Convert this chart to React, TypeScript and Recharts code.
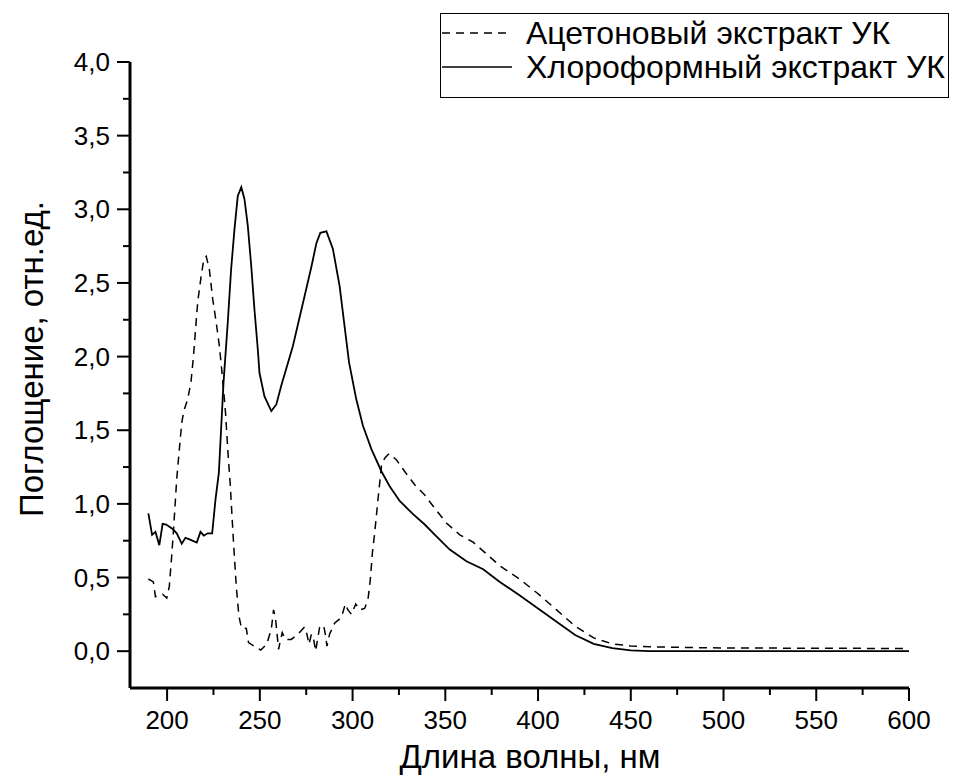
import React from 'react';
import { LineChart, Line, XAxis, YAxis, Legend } from 'recharts';

// Ацетоновый экстракт (пунктир)
const acetoneNm = [
  189.9, 192.6, 193.7, 197.6, 199.8, 201.2, 202.5, 203.6, 205.2, 206.6, 207.9, 209, 211.1,
  212.9, 214.2, 216.5, 218.4, 219.8, 221.1, 222.8, 224.6, 226.5, 228.2, 230, 231.5, 232.7,
  234, 235.1, 235.8, 237.3, 238.7, 240.1, 242.7, 243.9, 247.1, 250.5, 253.7, 256.2, 257.4,
  258.5, 259.2, 260.1, 261.2, 262.1, 263.7, 266.9, 270.5, 274.1, 275.4, 276.5, 277.8, 279,
  280.1, 281.3, 282.2, 284.4, 285.3, 286.2, 287.6, 290.3, 294, 296.1, 297.5, 299.4, 301.7,
  303.8, 306.5, 308.3, 309.6, 310.7, 311.9, 313.7, 315.6, 317.3, 319.6, 323.6, 328.1, 333.5,
  338.9, 344.3, 350.6, 357.8, 365, 372.2, 379.4, 390, 400, 410, 420, 430, 440, 450, 460,
  480, 500, 550, 600,
];
const acetoneAbs = [
  0.49, 0.47, 0.37, 0.386, 0.36, 0.44, 0.65, 0.85, 1.17, 1.37, 1.55, 1.63, 1.71,
  1.83, 2.0, 2.37, 2.55, 2.66, 2.68, 2.59, 2.39, 2.23, 2.07, 1.84, 1.62, 1.37,
  1.14, 0.895, 0.74, 0.44, 0.24, 0.157, 0.155, 0.058, 0.033, 0.008, 0.047, 0.15, 0.28,
  0.216, 0.126, 0.013, 0.08, 0.126, 0.08, 0.08, 0.115, 0.164, 0.115, 0.047, 0.115, 0.08,
  0.001, 0.092, 0.16, 0.176, 0.115, 0.035, 0.115, 0.19, 0.23, 0.32, 0.28, 0.25, 0.32,
  0.28, 0.29, 0.35, 0.49, 0.67, 0.8, 1.03, 1.26, 1.31, 1.34, 1.3, 1.22, 1.13,
  1.06, 0.97, 0.87, 0.79, 0.74, 0.66, 0.58, 0.49, 0.39, 0.28, 0.17, 0.09, 0.05, 0.035, 0.03,
  0.025, 0.022, 0.02, 0.018,
];

// Хлороформный экстракт (сплошная)
const chloroNm = [
  189.9, 191.9, 193.7, 195.8, 197.6, 199.5, 203, 205.2, 207.9, 209.9, 212.4, 216, 218,
  219.8, 221.9, 224.3, 226.1, 227.9, 230.4, 232.7, 234.5, 236.3, 238.1, 240, 241.7, 243.5,
  245.4, 247.1, 248.9, 249.8, 252.5, 256.2, 258.9, 261.5, 267.8, 274.1, 277.8, 280.5, 282.6,
  285.9, 289.4, 293, 298.1, 302, 305.6, 310.2, 315.6, 320, 325.4, 332.6, 338.9, 345.2,
  352.4, 361.4, 370.4, 379.4, 390, 400, 410, 420, 430, 440, 450, 460, 500, 550, 600,
];
const chloroAbs = [
  0.935, 0.79, 0.81, 0.72, 0.865, 0.86, 0.83, 0.8, 0.73, 0.77, 0.757, 0.737, 0.81,
  0.784, 0.8, 0.8, 1.03, 1.21, 1.82, 2.23, 2.59, 2.86, 3.09, 3.15, 3.07, 2.89,
  2.61, 2.32, 2.05, 1.89, 1.73, 1.63, 1.675, 1.8, 2.07, 2.41, 2.61, 2.77, 2.84,
  2.85, 2.73, 2.48, 1.96, 1.71, 1.53, 1.37, 1.22, 1.12, 1.02, 0.93, 0.86, 0.78,
  0.69, 0.61, 0.556, 0.47, 0.38, 0.29, 0.2, 0.11, 0.05, 0.02, 0.005, 0.0, 0.0, 0.0, 0.0,
];

const seriesNames = ['Ацетоновый экстракт УК', 'Хлороформный экстракт УК'];
const xTicks = [200, 225, 250, 275, 300, 325, 350, 375, 400, 425, 450, 475, 500, 525, 550, 575, 600];
const yTicks = [0, 0.25, 0.5, 0.75, 1, 1.25, 1.5, 1.75, 2, 2.25, 2.5, 2.75, 3, 3.25, 3.5, 3.75, 4];

const acetone = acetoneNm.map((nm, i) => ({ nm, abs: acetoneAbs[i] }));
const chloro = chloroNm.map((nm, i) => ({ nm, abs: chloroAbs[i] }));

const FONT = '"Liberation Sans", Arial, sans-serif';

const XTick = ({ x, y, payload }: any) => {
  const major = payload.value % 50 === 0;
  return (
    <g>
      <line x1={x} x2={x} y1={y} y2={y + (major ? 13 : 7)} stroke="#000" strokeWidth={2} />
      {major && (
        <text x={x} y={y + 41} textAnchor="middle" fontSize={26} fontFamily={FONT} fill="#000">
          {payload.value}
        </text>
      )}
    </g>
  );
};

const YTick = ({ x, y, payload }: any) => {
  const v = payload.value;
  const major = Math.abs(v * 2 - Math.round(v * 2)) < 1e-6;
  return (
    <g>
      <line x1={x} x2={x - (major ? 13 : 7)} y1={y} y2={y} stroke="#000" strokeWidth={2} />
      {major && (
        <text x={x - 20} y={y + 9} textAnchor="end" fontSize={26} fontFamily={FONT} fill="#000">
          {v.toFixed(1).replace('.', ',')}
        </text>
      )}
    </g>
  );
};

const renderLegend = () => (
  <svg width={510} height={86} style={{ display: 'block' }}>
    <rect x={0.5} y={0.5} width={508} height={84} fill="#fff" stroke="#000" strokeWidth={1} />
    <line x1={2} x2={72} y1={20} y2={20} stroke="#000" strokeWidth={1.5} strokeDasharray="8 6" />
    <text x={86} y={31} fontSize={32} fontFamily={FONT} fill="#000">{seriesNames[0]}</text>
    <line x1={2} x2={72} y1={54} y2={54} stroke="#000" strokeWidth={1.5} />
    <text x={86} y={65} fontSize={32} fontFamily={FONT} fill="#000">{seriesNames[1]}</text>
  </svg>
);

export default function App() {
  return (
    <div style={{ position: 'absolute', left: 0, top: 0, background: '#fff' }}>
      <LineChart width={957} height={783} margin={{ top: 62, right: 48, bottom: 0, left: 0 }}>
        <XAxis
          dataKey="nm"
          type="number"
          domain={[180, 600]}
          ticks={xTicks}
          interval={0}
          allowDataOverflow
          height={95}
          tickSize={0}
          tickMargin={0}
          tickLine={false}
          tick={<XTick />}
          axisLine={{ stroke: '#000', strokeWidth: 3 }}
          label={{
            content: () => (
              <text x={530} y={768} textAnchor="middle" fontSize={33} fontFamily={FONT} fill="#000">
                Длина волны, нм
              </text>
            ),
          }}
        />
        <YAxis
          type="number"
          domain={[-0.25, 4]}
          ticks={yTicks}
          interval={0}
          allowDataOverflow
          width={130}
          tickSize={0}
          tickMargin={0}
          tickLine={false}
          tick={<YTick />}
          axisLine={{ stroke: '#000', strokeWidth: 3 }}
          label={{
            content: () => (
              <text
                x={43}
                y={359}
                textAnchor="middle"
                fontSize={33}
                fontFamily={FONT}
                fill="#000"
                transform="rotate(-90 43 359)"
              >
                Поглощение, отн.ед.
              </text>
            ),
          }}
        />
        <Legend
          layout="horizontal"
          verticalAlign="middle"
          align="center"
          content={renderLegend}
          wrapperStyle={{ position: 'absolute', left: 440, top: 13, width: 510, height: 86 }}
        />
        <Line
          data={acetone}
          dataKey="abs"
          name={seriesNames[0]}
          type="linear"
          stroke="#000"
          strokeWidth={1.5}
          strokeDasharray="8 6"
          dot={false}
          activeDot={false}
          isAnimationActive={false}
        />
        <Line
          data={chloro}
          dataKey="abs"
          name={seriesNames[1]}
          type="linear"
          stroke="#000"
          strokeWidth={1.8}
          dot={false}
          activeDot={false}
          isAnimationActive={false}
        />
      </LineChart>
    </div>
  );
}
